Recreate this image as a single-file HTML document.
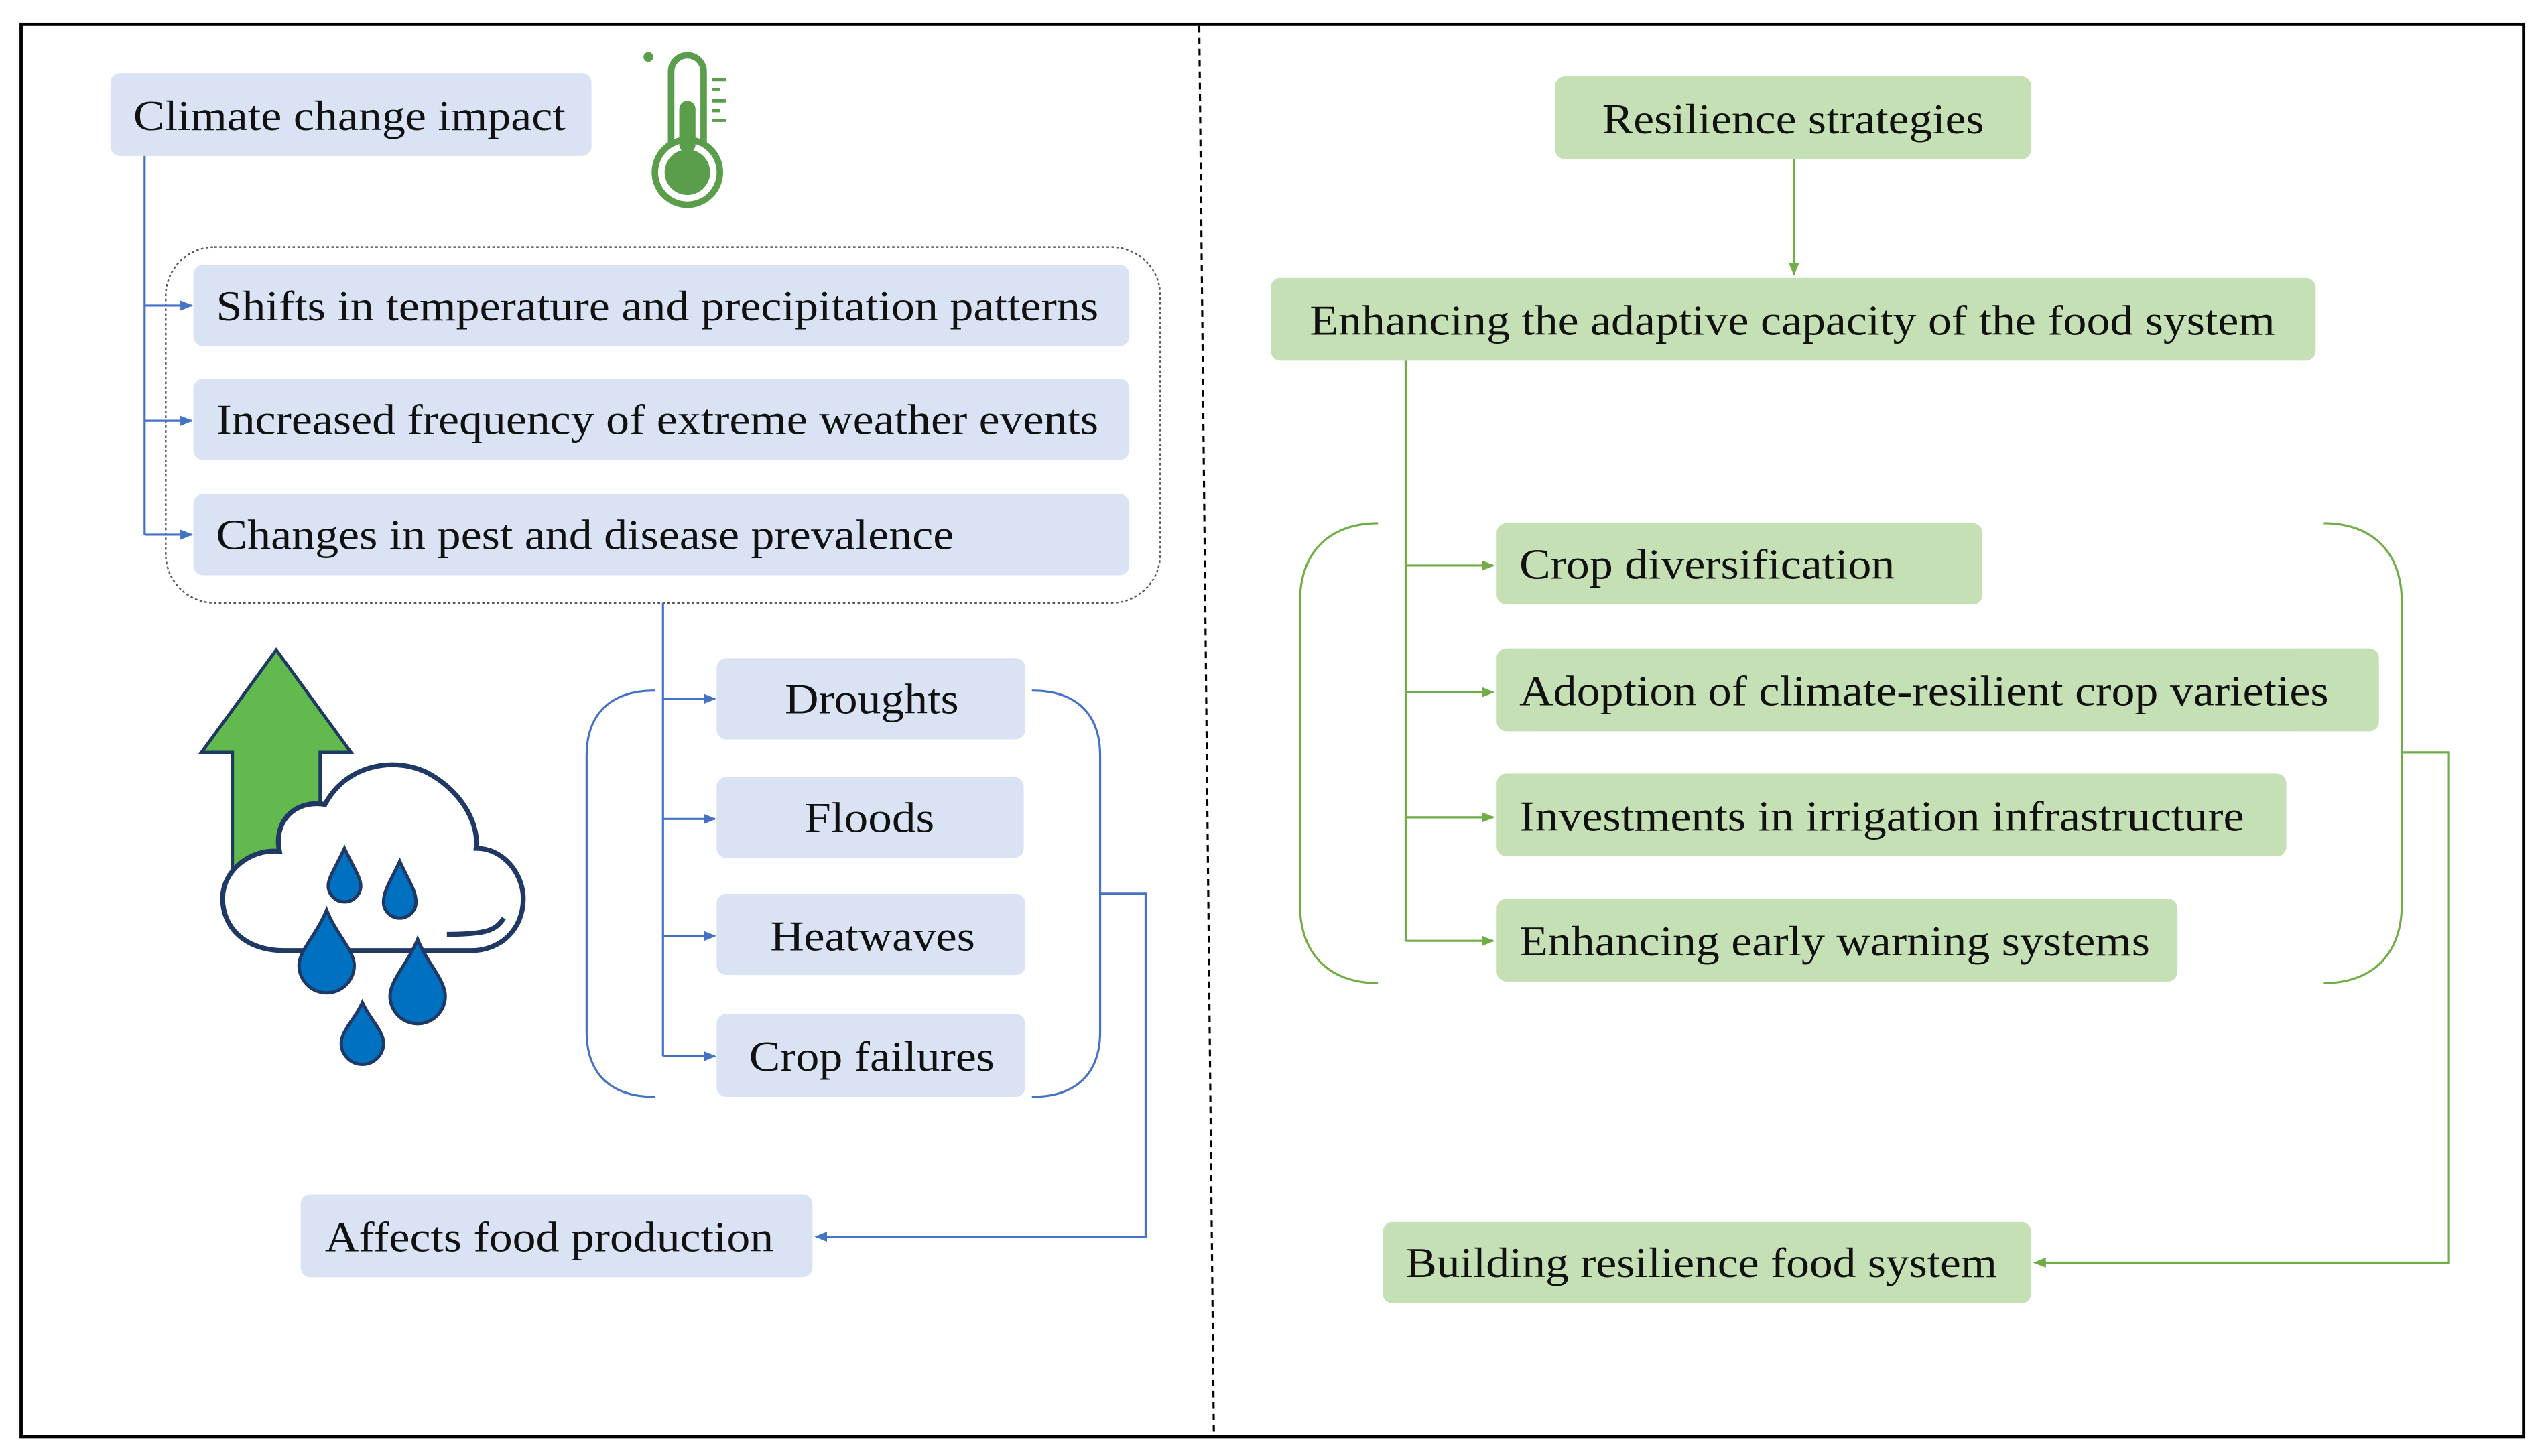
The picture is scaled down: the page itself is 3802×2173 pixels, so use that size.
<!DOCTYPE html>
<html><head><meta charset="utf-8"><style>
html,body{margin:0;padding:0;background:#fff;}
svg{display:block;}
text{font-family:"Liberation Serif","Times New Roman",Times,serif;font-size:26px;fill:#111;}
</style></head><body>
<svg width="3802" height="2173" viewBox="0 0 1568 896" preserveAspectRatio="none" xmlns="http://www.w3.org/2000/svg" font-family="Liberation Serif, Times New Roman, serif">
<defs>
<marker id="ab" viewBox="0 0 10 10" refX="9" refY="5" markerWidth="6" markerHeight="6" orient="auto"><path d="M0,1L10,5L0,9z" fill="#4472c4"/></marker>
<marker id="ag" viewBox="0 0 10 10" refX="9" refY="5" markerWidth="6" markerHeight="6" orient="auto"><path d="M0,1L10,5L0,9z" fill="#70ad47"/></marker>
</defs>
<rect x="13" y="15" width="1540" height="869" fill="none" stroke="#000" stroke-width="2"/>
<line x1="738" y1="16" x2="747" y2="883" stroke="#000" stroke-width="1.3" stroke-dasharray="4,3"/>

<g fill="#dae3f3">
<rect x="68" y="45" width="296" height="51" rx="6"/>
<rect x="119" y="163" width="576" height="50" rx="6"/>
<rect x="119" y="233" width="576" height="50" rx="6"/>
<rect x="119" y="304" width="576" height="50" rx="6"/>
<rect x="441" y="405" width="190" height="50" rx="6"/>
<rect x="441" y="478" width="189" height="50" rx="6"/>
<rect x="441" y="550" width="190" height="50" rx="6"/>
<rect x="441" y="624" width="190" height="51" rx="6"/>
<rect x="185" y="735" width="315" height="51" rx="6"/>
</g>
<rect x="102" y="152" width="612" height="219" rx="30" fill="none" stroke="#555" stroke-width="1" stroke-dasharray="1.5,1.5"/>
<g stroke="#4472c4" stroke-width="1.3" fill="none">
<path d="M89,96V329"/>
<path d="M89,188H118" marker-end="url(#ab)"/>
<path d="M89,259H118" marker-end="url(#ab)"/>
<path d="M89,329H118" marker-end="url(#ab)"/>
<path d="M408,371V650"/>
<path d="M408,430H440" marker-end="url(#ab)"/>
<path d="M408,504H440" marker-end="url(#ab)"/>
<path d="M408,576H440" marker-end="url(#ab)"/>
<path d="M408,650H440" marker-end="url(#ab)"/>
<path d="M403,425C375,425 361,440 361,465V635C361,660 375,675 403,675"/>
<path d="M635,425C663,425 677,440 677,465V635C677,660 663,675 635,675"/>
<path d="M677,550H705V761H502" marker-end="url(#ab)"/>
</g>
<text x="82" y="80" textLength="266" lengthAdjust="spacingAndGlyphs">Climate change impact</text>
<text x="133" y="197" textLength="543" lengthAdjust="spacingAndGlyphs">Shifts in temperature and precipitation patterns</text>
<text x="133" y="267" textLength="543" lengthAdjust="spacingAndGlyphs">Increased frequency of extreme weather events</text>
<text x="133" y="338" textLength="454" lengthAdjust="spacingAndGlyphs">Changes in pest and disease prevalence</text>
<text x="483" y="439" textLength="107" lengthAdjust="spacingAndGlyphs">Droughts</text>
<text x="495" y="512" textLength="80" lengthAdjust="spacingAndGlyphs">Floods</text>
<text x="474" y="585" textLength="126" lengthAdjust="spacingAndGlyphs">Heatwaves</text>
<text x="461" y="659" textLength="151" lengthAdjust="spacingAndGlyphs">Crop failures</text>
<text x="200" y="770" textLength="276" lengthAdjust="spacingAndGlyphs">Affects food production</text>

<g fill="none" stroke="#5a9e4b" stroke-width="4">
<path d="M413,88V44a10,10 0 0 1 20,0V88"/>
<circle cx="423" cy="106" r="20"/>
</g>
<rect x="418" y="62" width="10" height="32" rx="5" fill="#5a9e4b"/>
<circle cx="423" cy="106" r="14" fill="#5a9e4b"/>
<g stroke="#5a9e4b" stroke-width="2"><path d="M438,49h9M438,55h5M438,62h9M438,68h5M438,74h9"/></g>
<circle cx="399" cy="35" r="3" fill="#5a9e4b"/>

<path d="M170,400L124,463H143V545H197V463H216Z" fill="#62b94e" stroke="#1f3864" stroke-width="2"/>
<path d="M175,585C150,585 137,570 137,553C137,535 155,522 172,524C168,505 182,492 200,495C212,472 240,465 262,475C282,485 295,505 293,522C310,522 322,538 322,553C322,572 308,585 290,585Z" fill="#fff" stroke="#1f3864" stroke-width="3"/>
<path d="M310,565C305,573 298,575 275,575" fill="none" stroke="#1f3864" stroke-width="3"/>
<g fill="#0070c0" stroke="#1f3864" stroke-width="2">
<path d="M212,522C207,533 202,540 202,545a10,10 0 0 0 20,0C222,540 217,533 212,522Z"/>
<path d="M246,530C241,541 236,548 236,555a10,10 0 0 0 20,0C256,548 251,541 246,530Z"/>
<path d="M201,560C195,575 184,585 184,594a17,17 0 0 0 34,0C218,585 207,575 201,560Z"/>
<path d="M257,578C251,593 240,603 240,613a17,17 0 0 0 34,0C274,603 263,593 257,578Z"/>
<path d="M223,617C218,628 210,634 210,642a13,13 0 0 0 26,0C236,634 228,628 223,617Z"/>
</g>

<g fill="#c5e0b4">
<rect x="957" y="47" width="293" height="51" rx="6"/>
<rect x="782" y="171" width="643" height="51" rx="6"/>
<rect x="921" y="322" width="299" height="50" rx="6"/>
<rect x="921" y="399" width="543" height="51" rx="6"/>
<rect x="921" y="476" width="486" height="51" rx="6"/>
<rect x="921" y="553" width="419" height="51" rx="6"/>
<rect x="851" y="752" width="399" height="50" rx="6"/>
</g>
<g stroke="#70ad47" stroke-width="1.3" fill="none">
<path d="M1104,98V169" marker-end="url(#ag)"/>
<path d="M865,222V579"/>
<path d="M865,348H919" marker-end="url(#ag)"/>
<path d="M865,426H919" marker-end="url(#ag)"/>
<path d="M865,503H919" marker-end="url(#ag)"/>
<path d="M865,579H919" marker-end="url(#ag)"/>
<path d="M848,322C818,322 800,340 800,370V557C800,587 818,605 848,605"/>
<path d="M1430,322C1460,322 1478,340 1478,370V557C1478,587 1460,605 1430,605"/>
<path d="M1478,463H1507V777H1252" marker-end="url(#ag)"/>
</g>
<text x="986" y="82" textLength="235" lengthAdjust="spacingAndGlyphs">Resilience strategies</text>
<text x="806" y="206" textLength="594" lengthAdjust="spacingAndGlyphs">Enhancing the adaptive capacity of the food system</text>
<text x="935" y="356" textLength="231" lengthAdjust="spacingAndGlyphs">Crop diversification</text>
<text x="935" y="434" textLength="498" lengthAdjust="spacingAndGlyphs">Adoption of climate-resilient crop varieties</text>
<text x="935" y="511" textLength="446" lengthAdjust="spacingAndGlyphs">Investments in irrigation infrastructure</text>
<text x="935" y="588" textLength="388" lengthAdjust="spacingAndGlyphs">Enhancing early warning systems</text>
<text x="865" y="786" textLength="364" lengthAdjust="spacingAndGlyphs">Building resilience food system</text>
</svg>
</body></html>
